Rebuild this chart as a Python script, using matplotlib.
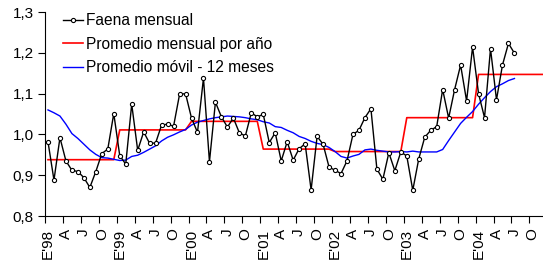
import matplotlib
matplotlib.use('Agg')
import matplotlib.pyplot as plt
import numpy as np

plt.rcParams['font.family'] = ['Liberation Sans', 'DejaVu Sans']

# ---- data ----
years = ['98', '99', '00', '01', '02', '03', '04']
quarter_letters = ['A', 'J', 'O']

faena_mensual = [
    0.982, 0.888, 0.992, 0.935, 0.912, 0.909, 0.894, 0.870, 0.909, 0.953, 0.964, 1.051,   # 1998
    0.948, 0.927, 1.074, 0.961, 1.006, 0.978, 0.979, 1.023, 1.025, 1.020, 1.098, 1.100,   # 1999
    1.040, 1.005, 1.138, 0.933, 1.079, 1.043, 1.018, 1.040, 1.004, 0.996, 1.053, 1.043,   # 2000
    1.049, 0.980, 1.004, 0.935, 0.982, 0.937, 0.965, 0.977, 0.864, 0.995, 0.976, 0.920,   # 2001
    0.912, 0.904, 0.935, 1.000, 1.010, 1.041, 1.063, 0.915, 0.890, 0.955, 0.911, 0.957,   # 2002
    0.947, 0.863, 0.940, 0.993, 1.010, 1.019, 1.110, 1.040, 1.110, 1.170, 1.082, 1.214,   # 2003
    1.100, 1.041, 1.210, 1.085, 1.170, 1.223, 1.199,                                       # 2004
]

promedio_anual = [0.938, 1.011, 1.032, 0.964, 0.958, 1.041, 1.147]

promedio_movil = [
    1.060, 1.053, 1.045, 1.025, 1.002, 0.990, 0.976, 0.962, 0.951, 0.943, 0.942, 0.939,
    0.936, 0.937, 0.946, 0.949, 0.956, 0.964, 0.972, 0.984, 0.993, 0.999, 1.006, 1.012,
    1.023, 1.030, 1.034, 1.038, 1.041, 1.043, 1.045, 1.044, 1.043, 1.041, 1.038, 1.036,
    1.031, 1.028, 1.019, 1.017, 1.010, 1.004, 0.995, 0.990, 0.983, 0.978, 0.975, 0.968,
    0.958, 0.946, 0.942, 0.947, 0.951, 0.962, 0.964, 0.961, 0.959, 0.957, 0.957, 0.958,
    0.957, 0.959, 0.957, 0.957, 0.957, 0.957, 0.963, 0.985, 1.006, 1.027, 1.042, 1.056,
    1.074, 1.090, 1.105, 1.117, 1.124, 1.132, 1.137,
]

labels = ["Faena mensual", "Promedio mensual por año", "Promedio móvil - 12 meses"]

# ---- derived series ----
promedio_mensual = np.repeat(promedio_anual, 12)
x_faena = np.arange(len(faena_mensual)) + 0.5
x_prom = np.arange(len(promedio_mensual)) + 0.5
x_movil = np.arange(len(promedio_movil)) + 0.5

fig = plt.figure(figsize=(5.43, 2.66), dpi=100)
ax = fig.add_axes([45 / 543, 50 / 266, 498 / 543, 204 / 266])

ax.plot(x_prom, promedio_mensual, color='#ff0000', lw=1.2, label=labels[1], zorder=2)
ax.plot(x_movil, promedio_movil, color='#0000ff', lw=1.0, label=labels[2], zorder=3)
ax.plot(x_faena, faena_mensual, color='black', lw=1.0, marker='o', markersize=3,
        markerfacecolor='white', markeredgecolor='black', markeredgewidth=0.8,
        label=labels[0], zorder=4)

ax.set_xlim(0, 498 / 5.98)
ax.set_ylim(0.8, 1.3)

# y axis
yt = [0.8, 0.9, 1.0, 1.1, 1.2, 1.3]
ax.set_yticks(yt)
ax.set_yticklabels([f"{v:.1f}".replace('.', ',') for v in yt], fontsize=11)
ax.tick_params(axis='y', direction='out', length=5, width=0.8, pad=3)

# x axis: tick marks between categories, labels on categories
tick_lbls = []
for y in years:
    tick_lbls += [f"E'{y}"] + quarter_letters
ax.set_xticks(np.arange(0, 84, 3))
ax.set_xticklabels([])
ax.set_xticks(np.arange(0, 84, 3) + 0.5, minor=True)
ax.set_xticklabels(tick_lbls, minor=True, rotation=90, fontsize=11, va='top', ha='center')
ax.tick_params(axis='x', which='major', direction='out', length=5, width=0.8)
ax.tick_params(axis='x', which='minor', length=0, pad=9)

for s in ['top', 'right']:
    ax.spines[s].set_visible(False)
for s in ['left', 'bottom']:
    ax.spines[s].set_linewidth(0.8)

h, l = ax.get_legend_handles_labels()
order = [2, 0, 1]
leg = ax.legend([h[i] for i in order], [l[i] for i in order], loc='upper left',
                bbox_to_anchor=(63 / 543, 1 - 13 / 266), bbox_transform=fig.transFigure,
                frameon=False, fontsize=11.2, handlelength=1.3, handletextpad=0.2,
                labelspacing=0.55, borderpad=0, borderaxespad=0)

fig.savefig('out.png', dpi=100)
